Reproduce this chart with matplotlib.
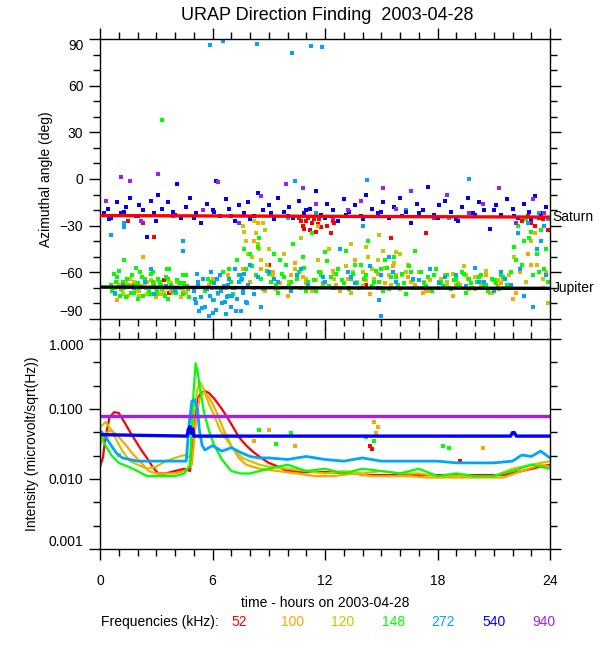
import numpy as np
import matplotlib
matplotlib.use("Agg")
import matplotlib.pyplot as plt
from matplotlib.ticker import FixedLocator, NullFormatter

plt.rcParams['font.family'] = ['Liberation Sans', 'DejaVu Sans']
plt.rcParams['font.size'] = 10

freqs = ['52', '100', '120', '148', '272', '540', '940']
colors = ['#ff0000', '#ffa500', '#c8c800', '#00ff00', '#00a5ff', '#0000ff', '#a020f0']

# ---- top panel: azimuth angle samples (hours, deg) ----
az_52_t = [1.5, 2.3, 2.9, 3.4, 3.7, 9.0, 10.6, 10.8, 11.0, 11.2, 11.4, 11.6, 11.8, 12.0,
           12.3, 12.5, 13.3, 14.2, 15.5, 17.4, 22.5, 22.8, 23.2, 23.6, 23.9,
           10.7, 10.9, 11.1, 11.3, 11.5, 11.7, 12.1, 12.4, 1.8, 2.6, 23.0, 23.4]
az_52_a = [-27, -28, -37, -65, -73, -55, -25, -30, -27, -33, -26, -29, -31, -25,
           -35, -28, -70, -68, -38, -35, -27, -24, -30, -26, -33,
           -27, -32, -25, -28, -34, -26, -30, -27, -69, -71, -28, -25]

az_100_t = [0.9, 1.1, 1.4, 1.7, 2.0, 2.3, 2.6, 2.9, 3.2, 3.5, 3.8, 4.1, 4.4, 4.6, 2.3,
            5.8, 6.3, 6.8, 7.2, 7.6, 8.0, 8.4, 8.8, 9.2, 9.6, 10.0, 10.4, 10.8, 11.2,
            11.6, 12.0, 12.4, 12.8, 13.2, 13.6, 14.0, 14.4, 14.8, 15.2, 15.6, 16.0,
            16.4, 16.8, 17.2, 17.6, 18.0, 18.4, 18.8, 19.2, 19.6, 20.0, 20.4, 20.8,
            21.2, 21.6, 22.0, 22.4, 22.8, 23.2, 23.6, 23.9,
            0.8, 1.2, 1.6, 2.1, 2.5, 3.0, 3.4, 3.9, 4.3, 4.7,
            6.0, 6.6, 7.4, 8.2, 8.6, 9.4, 10.2, 11.0, 11.8, 12.6, 13.4, 14.2, 15.0,
            15.8, 16.6, 17.4, 18.2, 19.0, 19.8, 20.6, 21.4, 22.2, 23.0, 23.8]
az_100_a = [-78, -70, -66, -73, -68, -75, -71, -67, -74, -69, -72, -66, -70, -73, -50,
            -68, -74, -62, -70, -58, -66, -28, -72, -60, -67, -75, -54, -63, -70,
            -30, -66, -59, -72, -64, -52, -69, -74, -61, -67, -56, -71,
            -63, -68, -73, -65, -70, -62, -75, -68, -64, -71, -66, -73,
            -69, -64, -77, -60, -48, -35, -70, -66,
            -70, -74, -68, -72, -66, -76, -70, -73, -67, -71,
            -64, -70, -66, -40, -58, -71, -62, -67, -60, -68, -73, -65, -70,
            -62, -66, -72, -64, -68, -70, -62, -67, -73, -55, -60]

az_120_t = [0.7, 0.9, 1.2, 1.4, 1.6, 1.9, 2.1, 2.4, 2.6, 2.8, 3.1, 3.3, 3.6, 3.8,
            4.0, 4.3, 4.5, 4.7, 7.6, 7.8, 8.0, 8.1, 8.3, 8.5, 8.7, 8.9, 9.2, 9.5, 9.8,
            10.1, 10.4, 10.7, 11.0, 11.3, 11.6, 11.9, 12.2, 12.5, 12.8, 13.1, 13.4,
            13.7, 14.0, 14.3, 14.6, 14.9, 15.2, 15.5, 15.8, 16.1, 16.4, 16.7, 17.0,
            17.3, 17.6, 17.9, 18.2, 18.5, 18.8, 19.1, 19.4, 19.7, 20.0, 20.3, 20.6,
            20.9, 21.2, 21.5, 21.8, 22.1, 22.4, 22.7, 23.0, 23.3, 23.6, 23.9,
            0.8, 1.0, 1.3, 1.5, 1.8, 2.0, 2.2, 2.5, 2.7, 3.0, 3.2, 3.4, 3.7, 3.9,
            4.2, 4.4, 4.6, 7.7, 7.9, 8.2, 8.4, 8.6, 8.8, 9.0, 14.2, 14.5, 14.8,
            15.1, 15.4, 15.7, 16.0, 16.3, 10.5, 11.5, 12.5, 13.5, 17.5, 18.5, 19.5,
            20.5, 21.5]
az_120_a = [-70, -66, -73, -68, -64, -71, -75, -67, -72, -69, -65, -74, -70, -67,
            -72, -76, -68, -71, -30, -40, -25, -50, -35, -45, -28, -55, -62, -70, -48,
            -66, -58, -38, -64, -72, -52, -68, -45, -61, -70, -56, -42,
            -66, -60, -50, -64, -36, -57, -68, -47, -62, -55, -70, -60,
            -66, -72, -58, -64, -69, -61, -67, -56, -71, -63, -68, -59,
            -73, -65, -70, -62, -50, -58, -66, -40, -55, -64, -80,
            -73, -68, -70, -75, -66, -72, -69, -74, -65, -71, -68, -73, -66, -70,
            -67, -72, -69, -34, -48, -27, -42, -52, -33, -45, -44, -58, -52,
            -46, -62, -54, -48, -60, -62, -65, -64, -60, -63, -66, -62,
            -67, -64]

az_148_t = [0.6, 0.8, 0.9, 1.1, 1.2, 1.4, 1.5, 1.7, 1.8, 2.0, 2.1, 2.3, 2.4, 2.6,
            2.7, 2.9, 3.0, 3.2, 3.3, 3.5, 3.6, 3.8, 3.9, 4.1, 4.2, 4.4, 4.5, 4.7,
            1.0, 1.9, 2.8, 3.7, 4.6, 1.3, 3.1, 3.31,
            5.6, 5.9, 6.1, 6.4, 6.7, 6.9, 7.1, 7.3, 7.5, 7.7, 7.9, 8.1, 8.3, 8.5,
            8.7, 8.9, 9.1, 9.3, 9.5, 9.7, 9.9, 10.1, 10.3, 10.5, 10.7, 10.9, 11.1,
            11.3, 11.5, 11.7, 11.9, 12.1, 12.3, 12.5, 12.7, 12.9, 13.1, 13.3, 13.5,
            13.7, 13.9, 14.1, 14.3, 14.5, 14.7, 14.9, 15.1, 15.3, 15.5, 15.7, 15.9,
            16.1, 16.3, 16.5, 16.7, 16.9, 17.1, 17.3, 17.5, 17.7, 17.9, 18.1, 18.3,
            18.5, 18.7, 18.9, 19.1, 19.3, 19.5, 19.7, 19.9, 20.1, 20.3, 20.5, 20.7,
            20.9, 21.1, 21.3, 21.5, 21.7, 21.9, 22.1, 22.3, 22.5, 22.7, 22.9, 23.1,
            23.3, 23.5, 23.7, 23.9,
            0.65, 0.85, 1.05, 1.25, 1.45, 1.65, 1.85, 2.05, 2.25, 2.45, 2.65, 2.85,
            3.05, 3.25, 3.45, 3.65, 3.85, 4.05, 4.25, 4.45, 4.65, 4.75, 0.75, 2.15, 3.55,
            5.75, 6.25, 6.55, 7.0, 7.4, 7.8, 8.2, 8.6, 9.0, 9.4, 9.8, 10.2, 10.6,
            11.0, 11.4, 11.8, 12.2, 12.6, 13.0, 13.4, 13.8, 14.2, 14.6, 15.0, 15.4,
            15.8, 16.2, 16.6, 17.0, 17.4, 17.8, 18.2, 18.6, 19.0, 19.4, 19.8, 20.2,
            20.6, 21.0, 21.4, 21.8, 22.2, 22.6, 23.0, 23.4, 23.8,
            8.0, 8.4, 9.6, 10.8, 12.0, 13.6, 15.2, 16.8]
az_148_a = [-68, -74, -63, -71, -66, -76, -69, -62, -73, -67, -70, -75, -64, -72,
            -61, -69, -74, -66, -71, -63, -77, -68, -72, -65, -70, -74, -67, -71,
            -59, -57, -60, -58, -62, -52, -64, 38,
            -72, -66, -78, -62, -70, -58, -74, -52, -65, -45, -68, -56, -62, -38,
            -71, -59, -66, -48, -73, -61, -55, -69, -42, -64, -70, -57, -66,
            -35, -72, -60, -67, -53, -63, -70, -58, -65, -46, -71, -61,
            -67, -55, -64, -40, -69, -59, -66, -72, -57, -63, -50, -68,
            -61, -74, -56, -65, -70, -60, -67, -63, -72, -58, -66, -69,
            -62, -71, -65, -68, -60, -73, -64, -70, -66, -62, -69, -72,
            -64, -67, -71, -63, -68, -60, -44, -30, -55, -26, -38, -62,
            -48, -33, -58, -66,
            -72, -66, -75, -70, -64, -73, -68, -77, -63, -70, -74, -66,
            -72, -68, -75, -64, -70, -73, -67, -62, -69, -76, -61, -60, -58,
            -64, -70, -60, -66, -62, -58, -70, -64, -61, -68, -63, -66, -60,
            -72, -65, -62, -69, -61, -67, -64, -70, -62, -66, -58, -71,
            -63, -67, -60, -65, -69, -62, -66, -70, -64, -61, -67, -63,
            -68, -65, -62, -70, -52, -40, -34, -60, -45,
            -48, -44, -52, -50, -47, -55, -52, -46]

az_272_t = [5.85, 6.57, 8.36, 10.25, 11.26, 11.85, 10.4, 14.25, 19.7,
            0.6, 0.8, 1.2, 1.3, 1.3, 1.8, 2.4, 2.7, 2.9, 3.5, 4.0, 4.4, 4.4,
            5.0, 5.1, 5.2, 5.3, 5.4, 5.5, 5.6, 5.7, 5.8, 5.9, 6.0, 6.1, 6.2, 6.3,
            6.4, 6.5, 6.6, 6.7, 6.8, 6.9, 7.0, 7.1, 7.2, 7.3, 7.4, 7.5, 7.6, 7.7,
            7.8, 7.9, 8.0, 8.2, 8.4, 8.6, 8.8,
            9.0, 9.5, 10.0, 10.2, 10.7, 11.1, 11.5, 11.9, 12.4, 12.8, 13.2, 13.6,
            14.0, 14.4, 14.8, 14.9, 15.0, 15.0, 15.4, 15.8, 16.3, 16.7, 17.2, 17.6,
            18.1, 18.6, 19.0, 19.5, 20.0, 20.5, 21.0, 21.4, 21.9, 22.3, 22.6, 22.8,
            23.1, 23.4, 23.5, 23.7, 23.8, 23.9,
            5.05, 5.25, 5.45, 5.65, 5.85, 6.05, 6.25, 6.45, 6.65, 6.85, 7.05, 7.25,
            7.45, 7.65, 7.85, 5.15, 5.95, 6.75, 7.55,
            9.3, 10.5, 12.0, 13.4, 15.6, 17.0, 18.4, 20.2, 21.6, 22.4, 23.3]
az_272_a = [86, 89, 86.5, 81, 85.5, 85, -1, -0.5, 0,
            -36, -73, -68, -28, -31, -70, -66, -58, -74, -69, -72, -40, -46,
            -72, -80, -68, -85, -76, -64, -82, -71, -88, -60, -78, -67, -84, -73,
            -62, -80, -69, -87, -75, -64, -82, -70, -58, -77, -66, -85, -72, -61,
            -79, -68, -55, -74, -63, -82, -70,
            -60, -66, -25, -72, -58, -68, -22, -63, -70, -45, -60, -67,
            -30, -56, -70, -78, -88, -62, -50, -66, -20, -64, -70, -58,
            -67, -25, -62, -69, -57, -66, -72, -60, -68, -35, -75, -28,
            -82, -22, -40, -30, -62, -26,
            -77, -66, -83, -70, -75, -86, -64, -72, -79, -68, -75, -85,
            -62, -73, -80, -61, -70, -76, -64,
            -64, -62, -66, -63, -60, -65, -63, -66, -64, -58, -45]

az_540_t = [0.2, 0.4, 0.6, 0.9, 1.1, 1.4, 1.6, 1.9, 2.1, 2.3, 2.5, 2.7, 2.9, 3.1,
            3.3, 3.6, 3.9, 4.1, 4.3, 4.6, 4.8, 5.1, 5.4, 5.7, 6.0, 6.2, 6.4, 6.7,
            6.9, 7.2, 7.4, 7.7, 7.9, 8.2, 8.4, 8.7, 9.0, 9.3, 9.5, 9.8, 10.1, 10.3,
            10.6, 10.9, 11.2, 11.5, 11.8, 12.1, 12.4, 12.7, 13.0, 13.3, 13.6, 13.9,
            14.2, 14.5, 14.8, 15.1, 15.4, 15.7, 16.0, 16.3, 16.6, 16.9, 17.2, 17.5,
            17.8, 18.1, 18.4, 18.7, 19.0, 19.3, 19.6, 19.9, 20.2, 20.5, 20.8, 21.1,
            21.4, 21.7, 22.0, 22.3, 22.6, 22.9, 23.2, 23.5, 23.8,
            0.5, 1.3, 2.0, 3.0, 4.0, 5.0, 6.1, 7.0, 8.0, 9.1, 10.0, 11.0, 12.0,
            13.1, 14.0, 15.0, 16.1, 17.0, 18.0, 19.1, 20.0, 21.0, 22.1, 23.0, 23.6]
az_540_a = [-22, -19, -25, -15, -22, -18, -12, -24, -17, -20, -37, -14, -22, -10,
            -19, -15, -21, -3, -25, -18, -12, -22, -28, -16, -20, -1, -24, -13,
            -19, -27, -17, -22, -15, -24, -9, -20, -17, -26, -12, -21, -18, -25,
            -14, -22, -19, -8, -23, -16, -20, -27, -13, -21, -17, -24,
            -10, -19, -22, -15, -25, -18, -12, -21, -28, -16, -20, -5,
            -23, -17, -14, -21, -26, -18, -12, -22, -15, -20, -32, -17,
            -23, -13, -19, -25, -16, -21, -11, -24, -18,
            -26, -21, -24, -27, -23, -25, -21, -24, -26, -22, -24, -20, -25,
            -23, -26, -21, -24, -22, -25, -27, -23, -20, -24, -26, -22]

az_940_t = [0.3, 1.1, 1.6, 2.2, 3.1, 3.9, 5.5, 6.3, 7.4, 8.6, 9.9, 10.8, 11.5, 12.4,
            13.2, 13.9, 15.1, 15.8, 16.6, 17.8, 18.5, 19.7, 20.4, 21.3, 22.2, 23.1, 23.7]
az_940_a = [-14, 1, -1, -27, 3, -24, -20, -2, -28, -11, -3, -6, -16, -25,
            -20, -14, -6, -19, -8, -25, -10, -22, -16, -6, -28, -13, -22]

sat_t = [0, 12, 24]
sat_a = [-23.5, -24.0, -24.5]
jup_t = [0, 12, 24]
jup_a = [-69.5, -70.0, -70.3]

# ---- bottom panel: intensity (hours, microvolt/sqrt(Hz)) ----
in_52_t = [0, 0.15, 0.3, 0.5, 0.75, 1.0, 1.3, 1.6, 1.9, 2.2, 2.5, 2.8, 3.1, 3.5, 4.0,
           4.5, 4.8, 5.0, 5.2, 5.4, 5.6, 5.8, 6.1, 6.5, 6.8, 7.1, 7.4, 7.8, 8.2, 8.6,
           9.0, 9.5, 10.0, 11.0, 12.0, 13.7, 14.0, 16.0, 18.0, 20.0, 21.5, 22.5, 23.5, 24.0]
in_52_v = [0.015, 0.02, 0.04, 0.075, 0.09, 0.088, 0.065, 0.047, 0.035, 0.026, 0.02,
           0.015, 0.012, 0.012, 0.013, 0.014, 0.013, 0.06, 0.14, 0.17, 0.18, 0.17,
           0.14, 0.1, 0.075, 0.055, 0.04, 0.03, 0.024, 0.02, 0.017, 0.015, 0.013,
           0.0126, 0.0126, 0.012, 0.0114, 0.0114, 0.0114, 0.0114, 0.0114, 0.013, 0.015, 0.016]

in_100_t = [0, 0.3, 0.6, 1.0, 1.4, 1.8, 2.2, 2.6, 3.0, 3.5, 4.0, 4.5, 4.9, 5.1, 5.3,
            5.5, 5.7, 6.0, 6.3, 6.6, 7.0, 7.4, 7.8, 8.5, 9.5, 10.5, 11.5, 12.5, 13.5,
            14.5, 15.5, 16.5, 17.5, 18.5, 19.5, 20.5, 21.5, 22.5, 23.5, 24.0]
in_100_v = [0.03, 0.045, 0.05, 0.04, 0.03, 0.022, 0.017, 0.013, 0.012, 0.012, 0.012,
            0.013, 0.016, 0.06, 0.14, 0.17, 0.16, 0.12, 0.08, 0.05, 0.03, 0.02, 0.016,
            0.014, 0.013, 0.012, 0.011, 0.011, 0.012, 0.011, 0.011, 0.011, 0.0105,
            0.0105, 0.0105, 0.0105, 0.0105, 0.013, 0.016, 0.015]

in_120_t = [0, 0.3, 0.6, 0.9, 1.2, 1.6, 2.0, 2.5, 3.0, 3.5, 4.0, 4.5, 4.8, 5.0, 5.2,
            5.35, 5.5, 5.8, 6.1, 6.4, 6.8, 7.2, 7.6, 8.0, 8.5, 9.0, 10.0, 11.0, 12.0,
            13.0, 14.0, 15.0, 16.0, 17.0, 18.0, 19.0, 20.0, 21.0, 22.0, 23.0, 24.0]
in_120_v = [0.055, 0.065, 0.05, 0.035, 0.025, 0.018, 0.016, 0.014, 0.015, 0.018, 0.02,
            0.022, 0.02, 0.08, 0.2, 0.24, 0.2, 0.12, 0.08, 0.05, 0.035, 0.025, 0.02,
            0.018, 0.016, 0.015, 0.014, 0.013, 0.012, 0.013, 0.012, 0.013, 0.012,
            0.012, 0.011, 0.011, 0.011, 0.011, 0.014, 0.016, 0.018]

in_148_t = [0, 0.3, 0.6, 1.0, 1.5, 2.0, 2.5, 3.0, 3.5, 4.0, 4.5, 4.8, 4.95, 5.1, 5.2,
            5.35, 5.55, 5.8, 6.1, 6.5, 7.0, 7.5, 8.0, 9.0, 10.0, 11.0, 12.0, 13.0,
            14.0, 15.0, 16.0, 17.0, 18.0, 19.0, 20.0, 21.0, 22.0, 23.0, 24.0]
in_148_v = [0.045, 0.03, 0.022, 0.017, 0.015, 0.013, 0.011, 0.011, 0.011, 0.011,
            0.012, 0.016, 0.12, 0.45, 0.35, 0.18, 0.09, 0.05, 0.03, 0.019, 0.013,
            0.012, 0.012, 0.014, 0.016, 0.013, 0.014, 0.012, 0.014, 0.013, 0.012,
            0.014, 0.011, 0.012, 0.011, 0.011, 0.013, 0.016, 0.014]

in_272_t = [0, 0.3, 0.6, 0.9, 1.2, 1.6, 2.0, 3.0, 4.0, 4.6, 4.75, 4.9, 5.05, 5.2,
            5.3, 5.45, 5.6, 6.0, 6.5, 7.0, 7.5, 8.0, 8.5, 9.0, 10.0, 11.0, 12.0,
            13.0, 14.0, 15.0, 16.0, 17.0, 18.0, 19.0, 20.0, 21.0, 22.0, 22.5, 23.0,
            23.5, 24.0]
in_272_v = [0.05, 0.04, 0.03, 0.023, 0.02, 0.019, 0.018, 0.018, 0.018, 0.018, 0.06,
            0.13, 0.135, 0.1, 0.05, 0.03, 0.026, 0.03, 0.025, 0.028, 0.024, 0.021,
            0.02, 0.02, 0.019, 0.021, 0.019, 0.018, 0.02, 0.018, 0.018, 0.018,
            0.018, 0.017, 0.017, 0.017, 0.018, 0.022, 0.021, 0.025, 0.02]

in_540_t = [0, 4.65, 4.7, 4.8, 4.85, 4.95, 5.0, 21.9, 22.0, 22.1, 22.2, 24]
in_540_v = [0.043, 0.041, 0.05, 0.056, 0.045, 0.052, 0.041, 0.041, 0.046, 0.046, 0.041, 0.041]

in_940_t = [0, 24]
in_940_v = [0.08, 0.08]

# stray intensity samples
st_100_t = [14.6, 14.8, 14.7, 10.4, 9.0, 20.4, 1.0, 8.2]
st_100_v = [0.065, 0.055, 0.045, 0.03, 0.05, 0.028, 0.022, 0.035]
st_148_t = [14.6, 14.2, 8.5, 9.4, 18.3, 18.6, 10.2]
st_148_v = [0.035, 0.04, 0.05, 0.032, 0.03, 0.028, 0.045]
st_52_t = [14.4, 14.5, 19.2]
st_52_v = [0.03, 0.027, 0.018]

az_t = [az_52_t, az_100_t, az_120_t, az_148_t, az_272_t, az_540_t, az_940_t]
az_a = [az_52_a, az_100_a, az_120_a, az_148_a, az_272_a, az_540_a, az_940_a]
in_t = [in_52_t, in_100_t, in_120_t, in_148_t, in_272_t, in_540_t, in_940_t]
in_v = [in_52_v, in_100_v, in_120_v, in_148_v, in_272_v, in_540_v, in_940_v]
in_lw = [1.6, 1.6, 1.6, 1.6, 2.0, 2.4, 2.4]

fig = plt.figure(figsize=(6, 6.5), dpi=100)
ax1 = fig.add_axes([100/600, 1 - 319/650, 450/600, 280/650])
ax2 = fig.add_axes([100/600, 1 - 549/650, 450/600, 210/650])

for t, a, c in zip(az_t, az_a, colors):
    ax1.scatter(t, a, s=6, marker='s', color=c, linewidths=0, zorder=2)
ax1.plot(sat_t, sat_a, color='#ff0000', lw=2.4, zorder=3)
ax1.plot(jup_t, jup_a, color='black', lw=2.4, zorder=3)
ax1.text(24.15, sat_a[-1], 'Saturn', ha='left', va='center', fontsize=10)
ax1.text(24.15, jup_a[-1], 'Jupiter', ha='left', va='center', fontsize=10)

for t, v, c, lw in zip(in_t, in_v, colors, in_lw):
    ax2.plot(t, v, color=c, lw=lw, zorder=2)
ax2.scatter(st_52_t, st_52_v, s=5, marker='s', color=colors[0], linewidths=0)
ax2.scatter(st_100_t, st_100_v, s=5, marker='s', color=colors[1], linewidths=0)
ax2.scatter(st_148_t, st_148_v, s=5, marker='s', color=colors[3], linewidths=0)

for ax in (ax1, ax2):
    ax.set_xlim(0, 24)
    ax.xaxis.set_major_locator(FixedLocator([0, 6, 12, 18, 24]))
    ax.xaxis.set_minor_locator(FixedLocator(list(range(25))))
    ax.tick_params(which='both', direction='out', top=True, right=True, width=1, labelsize=10)
    ax.tick_params(which='major', length=8, pad=4)
    ax.tick_params(which='minor', length=5)
    for sp in ax.spines.values():
        sp.set_linewidth(1)

ax1.set_ylim(-90, 90)
ax1.set_yticks([-90, -60, -30, 0, 30, 60, 90])
ax1.yaxis.set_minor_locator(FixedLocator(list(range(-90, 91, 10))))
ax1.set_xticklabels([])
ax1.set_ylabel('Azimuthal angle (deg)', fontsize=10)
ax1.yaxis.set_label_coords(-0.105, 0.5)
lbl = ax1.get_yticklabels()
lbl[-1].set_va('top')
lbl[0].set_va('bottom')

ax2.set_yscale('log')
ax2.set_ylim(0.001, 1.0)
ax2.yaxis.set_major_locator(FixedLocator([0.001, 0.01, 0.1, 1.0]))
ax2.yaxis.set_minor_locator(FixedLocator([10 ** (k / 3) for k in range(-9, 1)]))
ax2.yaxis.set_minor_formatter(NullFormatter())
ax2.set_yticklabels(['0.001', '0.010', '0.100', '1.000'])
lbl = ax2.get_yticklabels()
lbl[-1].set_va('top')
lbl[0].set_va('bottom')
ax2.tick_params(axis='x', which='major', pad=10)
ax2.set_xlabel('time - hours on 2003-04-28', fontsize=10, labelpad=6)
ax2.set_ylabel('Intensity (microvolt/sqrt(Hz))', fontsize=10)
ax2.yaxis.set_label_coords(-0.135, 0.5)

fig.text(327/600, 1 - 15/650, 'URAP Direction Finding  2003-04-28', ha='center', va='center', fontsize=13)

fy = 1 - 622/650
fig.text(101/600, fy, 'Frequencies (kHz):', ha='left', va='center', fontsize=10)
freq_x = [239, 293, 343, 394, 443, 494, 544]
for f, c, x in zip(freqs, colors, freq_x):
    fig.text(x/600, fy, f, ha='center', va='center', color=c, fontsize=10)

fig.savefig('out.png', dpi=100)
